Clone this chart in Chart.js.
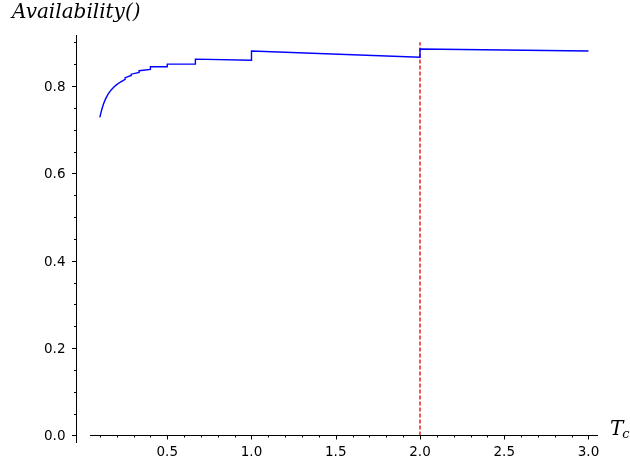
<!DOCTYPE html>
<html>
<head>
<meta charset="utf-8">
<title>Availability vs Tc</title>
<script src="https://cdn.jsdelivr.net/npm/chart.js@4.4.1/dist/chart.umd.min.js"></script>
<style>
    html, body { margin: 0; padding: 0; background: #ffffff; }
    #wrap { width: 630px; height: 469px; position: relative; }
</style>
</head>
<body>
<div id="wrap"><canvas id="availability-chart"></canvas></div>
<script>
// Valores (degraus em Tc = 2/n)
const tcValues = [
    0.100, 0.110, 0.120, 0.130, 0.140, 0.150, 0.167, 0.182, 0.200, 0.222,
    0.250, 0.250, 0.286, 0.286, 0.333, 0.333, 0.400, 0.400, 0.500, 0.500,
    0.667, 0.667, 1.000, 1.000, 2.000, 2.000, 3.000
];
const availabilityValues = [
    0.728, 0.744, 0.757, 0.767, 0.775, 0.782, 0.791, 0.797, 0.803, 0.809,
    0.815, 0.819, 0.824, 0.827, 0.831, 0.835, 0.838, 0.844, 0.844, 0.850,
    0.850, 0.8615, 0.859, 0.880, 0.866, 0.8846, 0.880
];

// Linha vertical tracejada
const markerTc = [2.0, 2.0];
const markerValues = [0.0, 0.9];

// Eixos
const xTickValues = [0.5, 1.0, 1.5, 2.0, 2.5, 3.0];
const xTickLabels = ['0.5', '1.0', '1.5', '2.0', '2.5', '3.0'];
const yTickValues = [0.0, 0.2, 0.4, 0.6, 0.8];
const yTickLabels = ['0.0', '0.2', '0.4', '0.6', '0.8'];
const xMinorStep = 0.1;
const yMinorStep = 0.05;
const xLabel = 'T';
const xLabelSub = 'c';
const yLabel = 'Availability()';

const colors = {
    curve: '#0000ff',
    marker: '#e00000',
    axis: '#000000'
};

// Plugin que desenha os eixos no estilo do Sage
const sageAxes = {
    id: 'sageAxes',
    afterDraw(chart) {
        const ctx = chart.ctx;
        const area = chart.chartArea;
        const xs = chart.scales.x;
        const ys = chart.scales.y;
        const y0 = Math.round(ys.getPixelForValue(0)) + 0.5;
        const yAxisX = Math.round(area.left) + 0.5;

        ctx.save();
        ctx.strokeStyle = colors.axis;
        ctx.fillStyle = colors.axis;
        ctx.lineWidth = 1;

        // linhas dos eixos
        ctx.beginPath();
        ctx.moveTo(yAxisX, area.top);
        ctx.lineTo(yAxisX, area.bottom);
        ctx.moveTo(xs.getPixelForValue(0.0415), y0);
        ctx.lineTo(area.right, y0);
        ctx.stroke();

        // ticks menores
        ctx.beginPath();
        for (let v = xMinorStep; v <= 3.0001; v += xMinorStep) {
            const px = Math.round(xs.getPixelForValue(v)) + 0.5;
            ctx.moveTo(px, y0);
            ctx.lineTo(px, y0 + 2);
        }
        for (let v = 0; v <= 0.9001; v += yMinorStep) {
            const py = Math.round(ys.getPixelForValue(v)) + 0.5;
            ctx.moveTo(yAxisX, py);
            ctx.lineTo(yAxisX - 2.5, py);
        }
        ctx.stroke();

        // ticks maiores
        ctx.beginPath();
        xTickValues.forEach(v => {
            const px = Math.round(xs.getPixelForValue(v)) + 0.5;
            ctx.moveTo(px, y0);
            ctx.lineTo(px, y0 + 4);
        });
        yTickValues.forEach(v => {
            const py = Math.round(ys.getPixelForValue(v)) + 0.5;
            ctx.moveTo(yAxisX, py);
            ctx.lineTo(yAxisX - 4.5, py);
        });
        ctx.stroke();

        // rótulos
        ctx.font = '13.5px "DejaVu Sans"';
        ctx.textAlign = 'center';
        ctx.textBaseline = 'alphabetic';
        xTickValues.forEach((v, i) => {
            ctx.fillText(xTickLabels[i], xs.getPixelForValue(v), y0 + 20.5);
        });
        ctx.textAlign = 'right';
        yTickValues.forEach((v, i) => {
            ctx.fillText(yTickLabels[i], yAxisX - 11, ys.getPixelForValue(v) + 5);
        });

        // títulos dos eixos
        ctx.textAlign = 'left';
        ctx.font = 'italic 20px "DejaVu Serif"';
        ctx.fillText(yLabel, 12, 18);
        ctx.font = 'italic 20px "DejaVu Serif"';
        ctx.fillText(xLabel, 610, 435);
        const tw = ctx.measureText(xLabel).width;
        ctx.font = 'italic 13px "DejaVu Serif"';
        ctx.fillText(xLabelSub, 610 + tw - 1, 438);
        ctx.restore();
    }
};

function createAvailabilityChart() {
    const ctx = document.getElementById('availability-chart');
    if (!ctx) return;

    new Chart(ctx, {
        type: 'line',
        data: {
            datasets: [{
                data: tcValues.map((t, i) => ({ x: t, y: availabilityValues[i] })),
                borderColor: colors.curve,
                borderWidth: 1.4,
                pointRadius: 0,
                tension: 0,
                fill: false
            }, {
                data: markerTc.map((t, i) => ({ x: t, y: markerValues[i] })),
                borderColor: colors.marker,
                borderWidth: 1.3,
                borderDash: [4, 2],
                pointRadius: 0,
                fill: false
            }]
        },
        options: {
            responsive: true,
            maintainAspectRatio: false,
            animation: false,
            layout: { padding: { left: 76, right: 32, top: 35, bottom: 26 } },
            plugins: {
                legend: { display: false },
                tooltip: { enabled: false }
            },
            scales: {
                x: { type: 'linear', min: -0.0415, max: 3.0564, display: false },
                y: { type: 'linear', min: -0.0172, max: 0.9167, display: false }
            }
        },
        plugins: [sageAxes]
    });
}

createAvailabilityChart();
</script>
</body>
</html>
